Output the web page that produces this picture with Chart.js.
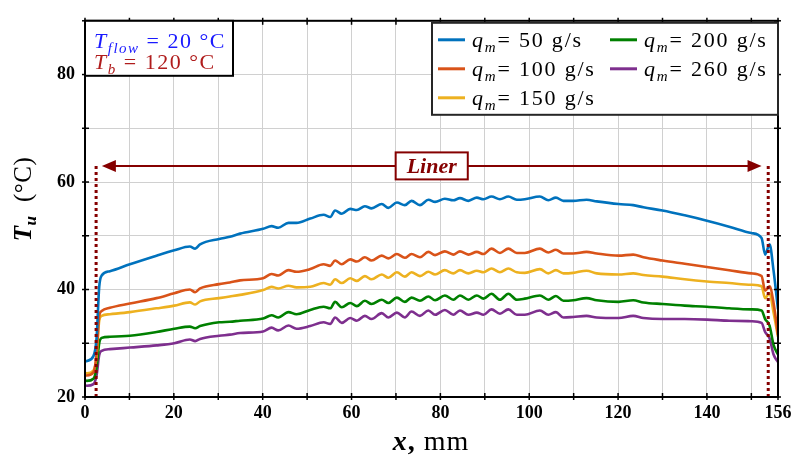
<!DOCTYPE html>
<html><head><meta charset="utf-8">
<script src="https://cdn.jsdelivr.net/npm/chart.js@4/dist/chart.umd.min.js"></script>
<style>html,body{margin:0;padding:0;background:#fff;}#wrap{width:799px;height:459px;position:relative;}</style>
</head><body><div id="wrap"><canvas id="c" width="799" height="459"></canvas></div>
<script>
// ---- data ----
const xPos = [0,0.4,1.9,2.6,3.2,3.75,5.6,10.1,16.1,20.1,23.6,24.8,25.9,30.2,32.6,34.9,40.1,42.0,43.5,45.8,47.6,50.7,53.7,55.2,56.3,57.8,59.7,61.2,63.0,64.5,66.8,68.3,70.2,72.0,73.5,75.4,77.3,78.8,81.0,82.9,84.4,86.3,88.2,89.7,91.5,93.4,95.3,97.2,99.0,102.4,104.3,106.0,107.7,109.9,112.9,115.2,120.1,123.4,125.7,130,135,140,145,150,152.3,153.1,154.1,155.0,156];
const q50 = [26.6,26.7,27.6,30.9,40.5,42.6,43.4,44.7,46.3,47.3,48.0,47.6,48.4,49.4,49.8,50.4,51.3,51.8,51.5,52.4,52.4,53.2,53.9,53.5,54.7,54.1,55.0,54.8,55.5,55.1,55.9,55.2,56.2,55.7,56.5,55.7,56.7,56.3,56.9,56.6,57.0,56.5,57.1,56.8,57.3,56.8,57.3,56.7,56.8,57.3,56.6,57.1,56.5,56.5,56.7,56.4,55.9,55.7,55.3,54.7,53.8,52.8,51.7,50.5,49.6,46.5,48.4,43.5,36.3];
const q100 = [24.0,24.0,24.6,28.0,35.1,36.0,36.6,37.4,38.4,39.3,40.0,39.5,40.2,41.0,41.3,41.7,42.1,42.9,42.6,43.6,43.3,43.8,44.7,44.4,45.4,44.7,45.6,45.2,46.0,45.4,46.3,45.8,46.6,45.9,46.6,46.0,47.0,46.4,47.1,46.5,47.1,46.5,47.0,46.6,47.6,46.8,47.6,46.8,46.8,47.6,46.9,47.4,46.7,46.7,47.0,46.7,46.3,46.5,46.0,45.4,44.8,44.2,43.6,43.0,42.5,39.8,40.6,37.5,31.5];
const q150 = [24.5,24.4,24.9,27.5,34.2,35.1,35.4,35.8,36.5,37.0,37.6,37.2,37.8,38.4,38.7,39.0,39.9,40.5,40.2,40.7,40.4,40.5,41.2,40.9,41.9,41.2,42.1,41.6,42.5,41.9,42.8,42.2,43.2,42.4,43.2,42.5,43.3,42.8,43.6,43.0,43.6,43.0,43.5,43.2,43.9,43.2,43.9,43.2,43.1,43.8,43.0,43.6,43.0,43.1,43.5,43.0,42.8,43.0,42.7,42.4,41.9,41.5,41.2,40.9,40.6,38.4,39.3,35.7,31.2];
const q200 = [23.1,23.0,23.4,25.5,30.0,31.0,31.2,31.4,32.1,32.7,33.1,32.8,33.2,33.9,34.0,34.2,34.6,35.2,34.8,35.8,35.4,36.2,36.8,36.5,37.7,36.7,37.5,36.9,37.9,37.3,38.1,37.5,38.5,37.7,38.5,37.9,38.7,38.0,38.9,38.1,38.9,38.1,38.9,38.3,39.2,38.1,39.2,38.1,38.3,38.9,38.1,38.8,37.9,38.0,38.4,38.0,37.7,38.0,37.6,37.3,37.0,36.8,36.5,36.3,36.1,34.5,33.3,29.7,27.9];
const q260 = [22.2,22.1,22.4,24.0,27.8,28.6,28.9,29.2,29.6,30.0,30.7,30.4,30.8,31.4,31.6,31.9,32.2,32.9,32.4,33.3,32.7,33.2,33.9,33.6,34.8,33.8,34.7,34.2,35.1,34.5,35.6,34.8,35.7,34.8,35.9,35.1,36.1,35.3,36.2,35.3,36.1,35.3,35.7,35.3,36.3,35.5,36.3,35.3,35.3,36.1,35.3,35.8,34.8,34.9,35.1,34.8,34.7,35.1,34.7,34.5,34.5,34.4,34.2,34.1,33.8,32.1,30.9,27.9,26.5];
const seriesValues = [q50, q100, q150, q200, q260];
const seriesLabels = ['50', '100', '150', '200', '260'];
const xTickValues = [0,10,20,30,40,50,60,70,80,90,100,110,120,130,140,150,156];
const xTickLabels = [0,20,40,60,80,100,120,140,156];
const yTickLabels = [20,40,60,80];
const linerDotX = [2.5, 153.8];
const linerArrowX = [3.8, 152.3];
const linerY = 63;
const linerText = 'Liner';

// ---- styles ----
const colors = ['#0072BD', '#D95319', '#EDB120', '#008000', '#7E2F8E'];
const SERIF = '"Liberation Serif", "Times New Roman", serif';
const DARKRED = '#850000';

function drawRuns(ctx, x, y, runs, align, spacing) {
  const sp = spacing || 0;
  ctx.letterSpacing = sp + 'px';
  let total = 0;
  runs.forEach(r => { ctx.font = r.font; r.w = ctx.measureText(r.t).width; total += r.w; });
  let cx = align === 'center' ? x - total / 2 : x;
  runs.forEach(r => {
    ctx.font = r.font;
    ctx.fillStyle = r.color || ctx.fillStyle;
    ctx.textBaseline = 'alphabetic';
    ctx.textAlign = 'left';
    ctx.fillText(r.t, cx, y + (r.dy || 0));
    cx += r.w;
  });
  ctx.letterSpacing = '0px';
  return total;
}

const decor = {
  id: 'decor',
  afterDatasetsDraw(chart) {
    const ctx = chart.ctx, xs = chart.scales.x, ys = chart.scales.y, a = chart.chartArea;
    ctx.save();
    // liner dotted boundaries
    ctx.strokeStyle = DARKRED; ctx.lineWidth = 3; ctx.setLineDash([3, 3]);
    linerDotX.forEach(v => {
      const px = xs.getPixelForValue(v);
      ctx.beginPath(); ctx.moveTo(px, ys.getPixelForValue(linerY)); ctx.lineTo(px, a.bottom); ctx.stroke();
    });
    ctx.setLineDash([]);
    // arrow
    const ay = ys.getPixelForValue(linerY);
    const x1 = xs.getPixelForValue(linerArrowX[0]), x2 = xs.getPixelForValue(linerArrowX[1]);
    ctx.lineWidth = 2;
    ctx.beginPath(); ctx.moveTo(x1 + 10, ay); ctx.lineTo(x2 - 10, ay); ctx.stroke();
    ctx.fillStyle = DARKRED;
    ctx.beginPath(); ctx.moveTo(x1, ay); ctx.lineTo(x1 + 14, ay - 6); ctx.lineTo(x1 + 14, ay + 6); ctx.closePath(); ctx.fill();
    ctx.beginPath(); ctx.moveTo(x2, ay); ctx.lineTo(x2 - 14, ay - 6); ctx.lineTo(x2 - 14, ay + 6); ctx.closePath(); ctx.fill();
    // liner label box
    const mid = (x1 + x2) / 2;
    ctx.font = 'italic bold 22px ' + SERIF;
    const tw = ctx.measureText(linerText).width;
    const bw = tw + 22, bh = 27;
    ctx.fillStyle = '#fff'; ctx.fillRect(mid - bw / 2, ay - bh / 2, bw, bh);
    ctx.strokeStyle = DARKRED; ctx.lineWidth = 2; ctx.strokeRect(mid - bw / 2, ay - bh / 2, bw, bh);
    ctx.fillStyle = DARKRED; ctx.textAlign = 'center'; ctx.textBaseline = 'middle';
    ctx.fillText(linerText, mid, ay + 1);

    // frame
    ctx.strokeStyle = '#000'; ctx.lineWidth = 2;
    ctx.strokeRect(a.left, a.top, a.right - a.left, a.bottom - a.top);
    // ticks on all sides (both directions)
    ctx.lineWidth = 1.5;
    xTickValues.forEach(v => {
      const px = xs.getPixelForValue(v);
      ctx.beginPath(); ctx.moveTo(px, a.bottom - 4); ctx.lineTo(px, a.bottom + 3); ctx.stroke();
      ctx.beginPath(); ctx.moveTo(px, a.top + 4); ctx.lineTo(px, a.top - 3); ctx.stroke();
    });
    for (let v = 20; v <= 90; v += 10) {
      const py = ys.getPixelForValue(v);
      ctx.beginPath(); ctx.moveTo(a.left - 3, py); ctx.lineTo(a.left + 4, py); ctx.stroke();
      ctx.beginPath(); ctx.moveTo(a.right - 4, py); ctx.lineTo(a.right + 3, py); ctx.stroke();
    }

    // top-left info box
    const bx = a.left, by = a.top;
    ctx.fillStyle = '#fff'; ctx.fillRect(bx, by, 148, 55);
    ctx.strokeStyle = '#000'; ctx.lineWidth = 2; ctx.strokeRect(bx, by, 148, 55);
    drawRuns(ctx, bx + 9, by + 27, [
      {t: 'T', font: 'italic 22px ' + SERIF, color: '#1a1aff'},
      {t: 'flow', font: 'italic 15px ' + SERIF, dy: 5, color: '#1a1aff'},
      {t: ' = 20 °C', font: '22px ' + SERIF, color: '#1a1aff'}
    ], 'left', 1.5);
    drawRuns(ctx, bx + 9, by + 48, [
      {t: 'T', font: 'italic 22px ' + SERIF, color: '#b01c1c'},
      {t: 'b', font: 'italic 15px ' + SERIF, dy: 5, color: '#b01c1c'},
      {t: ' = 120 °C', font: '22px ' + SERIF, color: '#b01c1c'}
    ], 'left', 1.5);

    // legend
    const lx = 432, ly = a.top + 2, lw = a.right - lx, lh = 92;
    ctx.fillStyle = '#fff'; ctx.fillRect(lx, ly, lw, lh);
    ctx.strokeStyle = '#262626'; ctx.lineWidth = 2; ctx.strokeRect(lx, ly, lw, lh);
    const slots = [[438, 0], [438, 1], [438, 2], [610, 0], [610, 1]];
    seriesLabels.forEach((lab, i) => {
      const sx = slots[i][0], sy = ly + 17 + slots[i][1] * 29;
      ctx.strokeStyle = colors[i]; ctx.lineWidth = 3;
      ctx.beginPath(); ctx.moveTo(sx, sy); ctx.lineTo(sx + 27, sy); ctx.stroke();
      drawRuns(ctx, sx + 34, sy + 7, [
        {t: 'q', font: 'italic 22px ' + SERIF, color: '#000'},
        {t: 'm', font: 'italic 15px ' + SERIF, dy: 5, color: '#000'},
        {t: '= ' + lab + ' g/s', font: '22px ' + SERIF, color: '#000'}
      ], 'left', 1.8);
    });

    // axis titles
    drawRuns(ctx, 431, 450, [
      {t: 'x', font: 'italic bold 28px ' + SERIF, color: '#000'},
      {t: ', ', font: 'bold 28px ' + SERIF, color: '#000'},
      {t: 'mm', font: '28px ' + SERIF, color: '#000'}
    ], 'center', 1);
    ctx.save();
    ctx.translate(31, 199);
    ctx.rotate(-Math.PI / 2);
    drawRuns(ctx, 0, 0, [
      {t: 'T', font: 'italic bold 25px ' + SERIF, color: '#000'},
      {t: 'u', font: 'italic bold 17px ' + SERIF, dy: 5, color: '#000'},
      {t: '  (°C)', font: '25px ' + SERIF, color: '#000'}
    ], 'center', 0.5);
    ctx.restore();
    ctx.restore();
  }
};

new Chart(document.getElementById('c'), {
  type: 'line',
  data: {
    datasets: seriesValues.map((arr, i) => ({
      label: 'q_m = ' + seriesLabels[i] + ' g/s',
      data: xPos.map((x, j) => ({x: x, y: arr[j]})),
      borderColor: colors[i],
      borderWidth: 2.6,
      pointRadius: 0,
      cubicInterpolationMode: 'monotone',
      fill: false
    }))
  },
  options: {
    responsive: false,
    animation: false,
    devicePixelRatio: 1,
    layout: {padding: {top: 8, right: 21, left: 0, bottom: 0}},
    plugins: {legend: {display: false}, title: {display: false}, tooltip: {enabled: false}},
    scales: {
      x: {
        type: 'linear', min: 0, max: 156,
        afterBuildTicks: s => { s.ticks = xTickValues.map(v => ({value: v})); },
        afterFit: s => { s.height = 62; },
        ticks: {
          autoSkip: false, maxRotation: 0, padding: 6, color: '#000',
          font: {family: SERIF, size: 18, weight: 'bold'},
          callback: v => xTickLabels.includes(v) ? String(v) : ''
        },
        grid: {color: '#d0d0d0', lineWidth: 1, drawTicks: false},
        border: {display: true, color: '#000', width: 2}
      },
      y: {
        min: 20, max: 90,
        afterBuildTicks: s => { const t = []; for (let v = 20; v <= 90; v += 10) t.push({value: v}); s.ticks = t; },
        afterFit: s => { s.width = 85; },
        ticks: {
          padding: 10, color: '#000',
          font: {family: SERIF, size: 18, weight: 'bold'},
          callback: v => yTickLabels.includes(v) ? String(v) : ''
        },
        grid: {color: '#d0d0d0', lineWidth: 1, drawTicks: false},
        border: {display: true, color: '#000', width: 2}
      }
    }
  },
  plugins: [decor]
});
</script>
</body></html>
